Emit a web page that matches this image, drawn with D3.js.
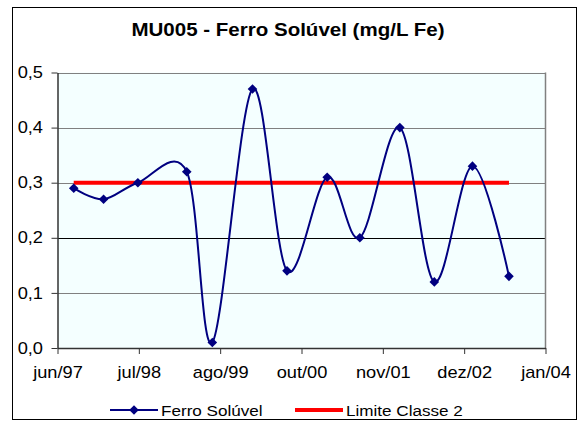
<!DOCTYPE html>
<html>
<head>
<meta charset="utf-8">
<script src="https://cdn.jsdelivr.net/npm/d3@7"></script>
<style>
  html, body { margin: 0; padding: 0; background: #ffffff; }
  svg { display: block; }
  text { font-family: Arial, "Liberation Sans", Helvetica, sans-serif; fill: #000; }
</style>
</head>
<body>
<svg id="chart" width="580" height="421"></svg>
<script>
// Monitoring station MU005 — dissolved iron samples
const sampleDates = [
  "1997-08-20", "1998-01-14", "1998-07-02", "1999-02-28", "1999-07-04",
  "2000-01-18", "2000-07-06", "2001-01-20", "2001-06-30", "2002-01-13",
  "2002-07-02", "2003-01-06", "2003-07-05"
];
const ferroSoluvel = [0.29, 0.27, 0.30, 0.32, 0.01, 0.47, 0.14, 0.31, 0.20, 0.40, 0.12, 0.33, 0.13];
const limiteClasse2 = [0.30, 0.30, 0.30, 0.30, 0.30, 0.30, 0.30, 0.30, 0.30, 0.30, 0.30, 0.30, 0.30];

const xTickLabels = ["jun/97", "jul/98", "ago/99", "out/00", "nov/01", "dez/02", "jan/04"];
const yTickValues = [0, 0.1, 0.2, 0.3, 0.4, 0.5];
const yTickLabels = ["0,0", "0,1", "0,2", "0,3", "0,4", "0,5"];

const chartTitle = "MU005 - Ferro Solúvel (mg/L Fe)";
const seriesNames = ["Ferro Solúvel", "Limite Classe 2"];

// the chart's lettering is slightly wide; stretch glyphs horizontally
const STRETCH = 1.14;

const parse = d3.utcParse("%Y-%m-%d");
const dates = sampleDates.map(parse);

const svg = d3.select("#chart");

// outer chart frame
svg.append("rect")
  .attr("x", 12.5).attr("y", 7.5)
  .attr("width", 564).attr("height", 412)
  .attr("fill", "#ffffff").attr("stroke", "#000").attr("stroke-width", 1);

const plot = { left: 57.5, right: 545.5, top: 72.5, bottom: 348 };

const x = d3.scaleUtc()
  .domain([new Date(Date.UTC(1997, 5, 1)), new Date(Date.UTC(2004, 0, 1))])
  .range([plot.left, plot.right]);

const y = d3.scaleLinear()
  .domain([0, 0.5])
  .range([plot.bottom, plot.top]);

// x ticks evenly spaced across the date domain
const [d0, d1] = x.domain();
const xTickValues = d3.range(xTickLabels.length).map(i =>
  new Date(+d0 + i * (d1 - d0) / (xTickLabels.length - 1)));

// plot background
svg.append("rect")
  .attr("x", plot.left).attr("y", plot.top)
  .attr("width", plot.right - plot.left).attr("height", plot.bottom - plot.top)
  .attr("fill", "#f4ffff");

// horizontal gridlines
svg.append("g")
  .selectAll("line")
  .data(yTickValues.filter(v => v > 0))
  .join("line")
  .attr("x1", plot.left).attr("x2", plot.right)
  .attr("y1", d => Math.round(y(d)) + 0.5).attr("y2", d => Math.round(y(d)) + 0.5)
  .attr("stroke", d => Math.abs(d - 0.2) < 1e-9 ? "#000" : "#808080")
  .attr("stroke-width", 1);

// right edge of plot area
svg.append("line")
  .attr("x1", plot.right).attr("x2", plot.right)
  .attr("y1", plot.top).attr("y2", plot.bottom)
  .attr("stroke", "#808080").attr("stroke-width", 1.5);

// y axis
const yAxis = d3.axisLeft(y)
  .tickValues(yTickValues)
  .tickFormat((d, i) => yTickLabels[i])
  .tickSize(6)
  .tickSizeOuter(0)
  .tickPadding(0);
const gy = svg.append("g")
  .attr("transform", `translate(${plot.left},0)`)
  .call(yAxis);
gy.select(".domain").attr("stroke", "#333").attr("stroke-width", 1.5);
gy.selectAll(".tick line").attr("stroke", "#333");
gy.selectAll(".tick text")
  .attr("x", null)
  .attr("font-family", "Arial, 'Liberation Sans', sans-serif")
  .attr("font-size", 16)
  .attr("fill", "#000")
  .attr("transform", `translate(-14.5,0) scale(${STRETCH},1)`);

// x axis
const xAxis = d3.axisBottom(x)
  .tickValues(xTickValues)
  .tickFormat((d, i) => xTickLabels[i])
  .tickSize(6)
  .tickSizeOuter(0)
  .tickPadding(13);
const gx = svg.append("g")
  .attr("transform", `translate(0,${plot.bottom})`)
  .call(xAxis);
gx.select(".domain").attr("stroke", "#333").attr("stroke-width", 1.5);
gx.selectAll(".tick line").attr("stroke", "#333");
gx.selectAll(".tick text")
  .attr("font-family", "Arial, 'Liberation Sans', sans-serif")
  .attr("font-size", 16)
  .attr("fill", "#000")
  .attr("transform", `scale(${STRETCH},1)`);

// limit line
const limitLine = d3.line()
  .x((d, i) => x(dates[i]))
  .y(d => y(d));
svg.append("path")
  .datum(limiteClasse2)
  .attr("d", limitLine)
  .attr("fill", "none")
  .attr("stroke", "#ff0000")
  .attr("stroke-width", 4);

// smoothed measurement line
const ironLine = d3.line()
  .x((d, i) => x(dates[i]))
  .y(d => y(d))
  .curve(d3.curveCardinal.tension(0));
svg.append("path")
  .datum(ferroSoluvel)
  .attr("d", ironLine)
  .attr("fill", "none")
  .attr("stroke", "#000080")
  .attr("stroke-width", 2);

// diamond markers
const diamond = d3.symbol().type(d3.symbolSquare).size(46);
svg.append("g")
  .selectAll("path")
  .data(ferroSoluvel)
  .join("path")
  .attr("d", diamond)
  .attr("transform", (d, i) => `translate(${x(dates[i])},${y(d)}) rotate(45)`)
  .attr("fill", "#000080");

// title
svg.append("text")
  .attr("text-anchor", "middle")
  .attr("font-size", 18)
  .attr("font-weight", "bold")
  .attr("transform", `translate(288,36) scale(${STRETCH},1)`)
  .text(chartTitle);

// legend
const legendY = 410;
const lg = svg.append("g");
lg.append("line")
  .attr("x1", 110).attr("x2", 158)
  .attr("y1", legendY).attr("y2", legendY)
  .attr("stroke", "#000080").attr("stroke-width", 2);
lg.append("path")
  .attr("d", diamond)
  .attr("transform", `translate(134,${legendY}) rotate(45)`)
  .attr("fill", "#000080");
lg.append("text")
  .attr("font-size", 15)
  .attr("transform", `translate(161,${legendY + 5.5}) scale(${STRETCH},1)`)
  .text(seriesNames[0]);
lg.append("line")
  .attr("x1", 295).attr("x2", 343)
  .attr("y1", legendY).attr("y2", legendY)
  .attr("stroke", "#ff0000").attr("stroke-width", 4);
lg.append("text")
  .attr("font-size", 15)
  .attr("transform", `translate(346,${legendY + 5.5}) scale(${STRETCH},1)`)
  .text(seriesNames[1]);
</script>
</body>
</html>
